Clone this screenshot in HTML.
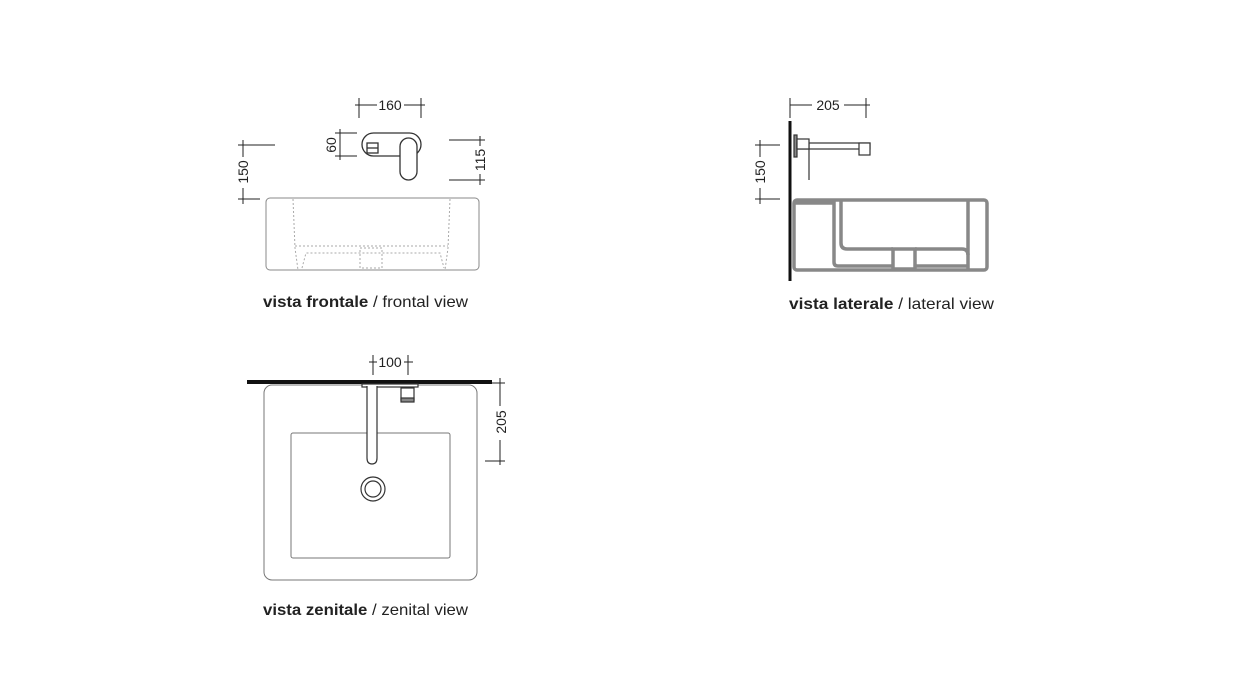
<!DOCTYPE html>
<html><head><meta charset="utf-8"><style>
html,body{margin:0;padding:0;background:#fff;}
svg{display:block}
text{font-family:"Liberation Sans",sans-serif;fill:#222}
</style></head><body>
<svg width="1241" height="684" viewBox="0 0 1241 684" xmlns="http://www.w3.org/2000/svg">
<g stroke="#222" stroke-width="1" fill="none">
<line x1="355" y1="105" x2="377" y2="105"/><line x1="404" y1="105" x2="425" y2="105"/>
<line x1="359" y1="98" x2="359" y2="118"/><line x1="421" y1="98" x2="421" y2="118"/>
<line x1="243" y1="140" x2="243" y2="157"/><line x1="243" y1="188" x2="243" y2="204"/>
<line x1="238" y1="145" x2="275" y2="145"/><line x1="238" y1="199" x2="260" y2="199"/>
<line x1="340" y1="129" x2="340" y2="160"/>
<line x1="335" y1="133" x2="357" y2="133"/><line x1="335" y1="156" x2="357" y2="156"/>
<line x1="480" y1="136" x2="480" y2="146"/><line x1="480" y1="174" x2="480" y2="185"/>
<line x1="449" y1="140" x2="485" y2="140"/><line x1="449" y1="180" x2="485" y2="180"/>
</g>
<g stroke="#333" stroke-width="1.3" fill="#fff">
<rect x="362" y="133" width="59" height="23" rx="11.5"/>
<rect x="400" y="138" width="17" height="42" rx="8.5"/>
<rect x="367" y="143" width="11" height="10" fill="#fff"/>
<line x1="367" y1="148" x2="378" y2="148"/>
</g>
<rect x="266" y="198" width="213" height="72" rx="4" fill="none" stroke="#888" stroke-width="1"/>
<g stroke="#aaa" stroke-width="1" stroke-dasharray="2,2" fill="none">
<path d="M293 199 L295 248 L298 270"/><path d="M450 199 L448 248 L445 270"/>
<line x1="295" y1="246" x2="448" y2="246"/>
<path d="M302 268 L306 253 L440 253 L444 268"/>
<rect x="360" y="248" width="22" height="20"/>
</g>
<text x="390" y="110" font-size="14" text-anchor="middle">160</text>
<text transform="translate(248,172) rotate(-90)" font-size="14" text-anchor="middle">150</text>
<text transform="translate(336,145) rotate(-90)" font-size="14" text-anchor="middle">60</text>
<text transform="translate(485,160) rotate(-90)" font-size="14" text-anchor="middle">115</text>
<text x="263" y="307" font-size="16" textLength="205" lengthAdjust="spacingAndGlyphs"><tspan font-weight="bold">vista frontale</tspan> / frontal view</text>

<!-- lateral -->
<line x1="790" y1="121" x2="790" y2="281" stroke="#111" stroke-width="3"/>
<g stroke="#222" stroke-width="1" fill="none">
<line x1="790" y1="98" x2="790" y2="118"/><line x1="866" y1="98" x2="866" y2="118"/>
<line x1="790" y1="105" x2="812" y2="105"/><line x1="844" y1="105" x2="870" y2="105"/>
<line x1="760" y1="140" x2="760" y2="157"/><line x1="760" y1="188" x2="760" y2="204"/>
<line x1="755" y1="145" x2="780" y2="145"/><line x1="755" y1="199" x2="780" y2="199"/>
</g>
<g stroke="#333" stroke-width="1.2" fill="#fff">
<rect x="794" y="135" width="3" height="22" fill="#888"/>
<rect x="797" y="143" width="73" height="6"/>
<rect x="859" y="143" width="11" height="12"/>
<line x1="809" y1="143" x2="809" y2="180"/>
<rect x="797" y="139" width="12" height="10"/>
</g>
<g fill="none" stroke="#888" stroke-width="3.5">
<rect x="794" y="200" width="193" height="70" rx="3"/>
<line x1="794" y1="203" x2="834" y2="203"/>
<path d="M834 201 L834 262 Q834 266 838 266 L893 266"/>
<path d="M841 201 L841 243 Q841 249 847 249 L893 249"/>
<rect x="893" y="249" width="22" height="20"/>
<path d="M915 249 L962 249 Q968 249 968 255"/>
<path d="M915 266 L968 266"/>
<line x1="968" y1="201" x2="968" y2="269"/>
</g>
<text x="828" y="110" font-size="14" text-anchor="middle">205</text>
<text transform="translate(765,172) rotate(-90)" font-size="14" text-anchor="middle">150</text>
<text x="789" y="309" font-size="16" textLength="205" lengthAdjust="spacingAndGlyphs"><tspan font-weight="bold">vista laterale</tspan> / lateral view</text>

<!-- zenital -->
<rect x="264" y="385" width="213" height="195" rx="8" fill="none" stroke="#777" stroke-width="1"/>
<rect x="291" y="433" width="159" height="125" rx="2" fill="none" stroke="#777" stroke-width="1"/>
<line x1="247" y1="382" x2="492" y2="382" stroke="#111" stroke-width="4"/>
<g stroke="#333" stroke-width="1.2" fill="#fff">
<rect x="362" y="384" width="56" height="3"/>
<path d="M367 386 L367 458 Q367 464 372 464 Q377 464 377 458 L377 386"/>
<rect x="401" y="388" width="13" height="12"/>
<rect x="401" y="398" width="13" height="4" fill="#888"/>
<circle cx="373" cy="489" r="12" fill="none"/><circle cx="373" cy="489" r="8" fill="none"/>
</g>
<g stroke="#222" stroke-width="1" fill="none">
<line x1="373" y1="355" x2="373" y2="375"/><line x1="408" y1="355" x2="408" y2="375"/>
<line x1="369" y1="362" x2="377" y2="362"/><line x1="404" y1="362" x2="413" y2="362"/>
<line x1="500" y1="378" x2="500" y2="406"/><line x1="500" y1="440" x2="500" y2="465"/>
<line x1="492" y1="383" x2="505" y2="383"/><line x1="485" y1="461" x2="505" y2="461"/>
</g>
<text x="390" y="367" font-size="14" text-anchor="middle">100</text>
<text transform="translate(506,422) rotate(-90)" font-size="14" text-anchor="middle">205</text>
<text x="263" y="615" font-size="16" textLength="205" lengthAdjust="spacingAndGlyphs"><tspan font-weight="bold">vista zenitale</tspan> / zenital view</text>
</svg>
</body></html>
